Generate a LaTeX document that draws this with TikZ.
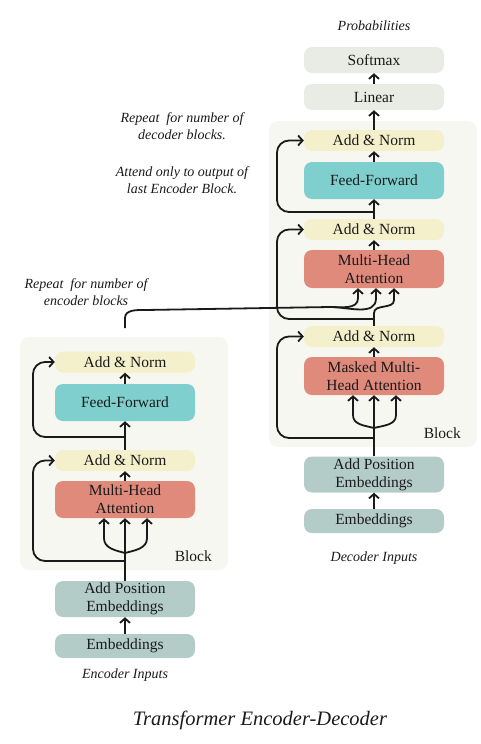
\documentclass[tikz,border=0pt]{standalone}
\usepackage{fontspec}
\setmainfont{Liberation Serif}
\usetikzlibrary{arrows.meta,calc}
\definecolor{bgblock}{HTML}{F7F7F2}
\definecolor{cnorm}{HTML}{F4F0CC}
\definecolor{cff}{HTML}{7ECFCD}
\definecolor{cmha}{HTML}{E08A7C}
\definecolor{cpe}{HTML}{B4CCC8}
\definecolor{clin}{HTML}{E9ECE4}
\definecolor{ink}{HTML}{1A1A1A}
\tikzset{
  box/.style={rounded corners=8pt, minimum width=140pt, inner sep=0pt, align=center,
    text=ink, font=\fontsize{15.5}{18}\selectfont},
  normbox/.style={box, fill=cnorm, minimum height=21pt},
  ffbox/.style={box, fill=cff, minimum height=37pt},
  mhabox/.style={box, fill=cmha, minimum height=37pt},
  pebox/.style={box, fill=cpe, minimum height=36pt},
  embbox/.style={box, fill=cpe, minimum height=24pt},
  linbox/.style={box, fill=clin, minimum height=26pt},
  lbl/.style={text=ink, font=\fontsize{14}{17}\selectfont\itshape, align=center, inner sep=0pt},
  blk/.style={text=ink, font=\fontsize{15.5}{18}\selectfont, inner sep=0pt},
  conn/.style={draw=ink, line width=1.8pt},
  arr/.style={conn, -{Straight Barb[length=4.5pt,width=10pt,line width=1.8pt]}},
  res/.style={arr, rounded corners=12pt},
}
\begin{document}
\begin{tikzpicture}[x=1pt,y=-1pt]
\useasboundingbox (0,0) rectangle (481,744);
% backgrounds
\fill[bgblock, rounded corners=9pt] (20,337) rectangle (228,570);
\fill[bgblock, rounded corners=9pt] (269,121) rectangle (477,447);

% ---------------- encoder ----------------
\node[normbox] (eAN1) at (125,362) {Add \& Norm};
\node[ffbox]   (eFF)  at (125,402.5) {Feed-Forward};
\node[normbox] (eAN2) at (125,460.5) {Add \& Norm};
\node[mhabox]  (eMHA) at (125,499.5) {Multi-Head\\Attention};
\node[pebox]   (ePE)  at (125,599) {Add Position\\Embeddings};
\node[embbox]  (eEmb) at (125,646) {Embeddings};
\node[lbl] (eIn) at (125,675) {Encoder Inputs};
\node[blk, anchor=east] (eBlk) at (212,556) {Block};

\coordinate (eL) at (33,0);
\coordinate (eFork) at (125,553);
\coordinate (eRes) at (125,561);
\coordinate (eRes2) at (125,437);
\coordinate (eOut) at (125,328);

\draw[arr] (eEmb.north) -- (ePE.south);
\draw[arr] (ePE.north) -- (eMHA.south);
\draw[arr] (eFork) to[out=165,in=-90] ($(eMHA.south)+(-21,20)$) -- ($(eMHA.south)+(-21,0)$);
\draw[arr] (eFork) to[out=15,in=-90] ($(eMHA.south)+(22,20)$) -- ($(eMHA.south)+(22,0)$);
\draw[res] (eRes) -- (eRes -| eL) |- (eAN2.west);
\draw[arr] (eMHA.north) -- (eAN2.south);
\draw[arr] (eAN2.north) -- (eFF.south);
\draw[res] (eRes2) -- (eRes2 -| eL) |- (eAN1.west);
\draw[arr] (eFF.north) -- (eAN1.south);

% ---------------- decoder ----------------
\node[lbl] (prob) at (374,26) {Probabilities};
\node[linbox]  (soft)  at (374,60) {Softmax};
\node[linbox]  (lin)   at (374,97) {Linear};
\node[normbox] (dAN1)  at (374,140.5) {Add \& Norm};
\node[ffbox]   (dFF)   at (374,180.5) {Feed-Forward};
\node[normbox] (dAN2)  at (374,229.5) {Add \& Norm};
\node[mhabox, minimum height=38pt] (dMHA) at (374,269) {Multi-Head\\Attention};
\node[normbox] (dAN3)  at (374,336.5) {Add \& Norm};
\node[mhabox, minimum height=38pt] (dMMHA) at (374,376) {Masked Multi-\\Head Attention};
\node[pebox]   (dPE)   at (374,474.5) {Add Position\\Embeddings};
\node[embbox]  (dEmb)  at (374,521) {Embeddings};
\node[lbl] (dIn) at (374,558) {Decoder Inputs};
\node[blk, anchor=east] (dBlk) at (461,433) {Block};

\coordinate (dL) at (277,0);
\coordinate (dFork) at (374,428);
\coordinate (dRes) at (374,438);
\coordinate (dRes2) at (374,319);
\coordinate (dRes3) at (374,212);
\coordinate (dBend) at (374,313);

\draw[arr] (dEmb.north) -- (dPE.south);
\draw[arr] (dPE.north) -- (dMMHA.south);
\draw[arr] (dFork) to[out=165,in=-90] ($(dMMHA.south)+(-21,20)$) -- ($(dMMHA.south)+(-21,0)$);
\draw[arr] (dFork) to[out=15,in=-90] ($(dMMHA.south)+(22,20)$) -- ($(dMMHA.south)+(22,0)$);
\draw[res] (dRes) -- (dRes -| dL) |- (dAN3.west);
\draw[arr] (dMMHA.north) -- (dAN3.south);
\draw[conn] (dAN3.north) -- (dBend);
\draw[arr] (dBend) to[out=90,in=-90] ($(dMHA.south)+(20,12)$) -- ($(dMHA.south)+(20,0)$);
\draw[res] (dRes2) -- (dRes2 -| dL) |- (dAN2.west);
\draw[arr] (dMHA.north) -- (dAN2.south);
\draw[arr] (dAN2.north) -- (dFF.south);
\draw[res] (dRes3) -- (dRes3 -| dL) |- (dAN1.west);
\draw[arr] (dFF.north) -- (dAN1.south);
\draw[arr] (dAN1.north) -- (lin.south);
\draw[arr] (lin.north) -- (soft.south);

% encoder output to decoder cross attention
\coordinate (xMid) at (330,307);
\draw[arr] (eOut) -- ++(0,-10) to[out=90,in=180] (145,310) -- (xMid)
  to[out=0,in=-90] ($(dMHA.south)+(-16,10)$) -- ($(dMHA.south)+(-16,0)$);
\draw[arr] (xMid) to[out=0,in=-90] ($(dMHA.south)+(2,10)$) -- ($(dMHA.south)+(2,0)$);

% annotations
\node[lbl] (n1) at (182,126.5) {Repeat \ for number of\\decoder blocks.};
\node[lbl] (n2) at (182,180.5) {Attend only to output of\\last Encoder Block.};
\node[lbl] (n3) at (86,292) {Repeat \ for number of\\encoder blocks};
\node[text=ink, font=\fontsize{20.5}{24}\selectfont\itshape, inner sep=0pt] (title) at (260,720) {Transformer Encoder-Decoder};
\end{tikzpicture}
\end{document}
